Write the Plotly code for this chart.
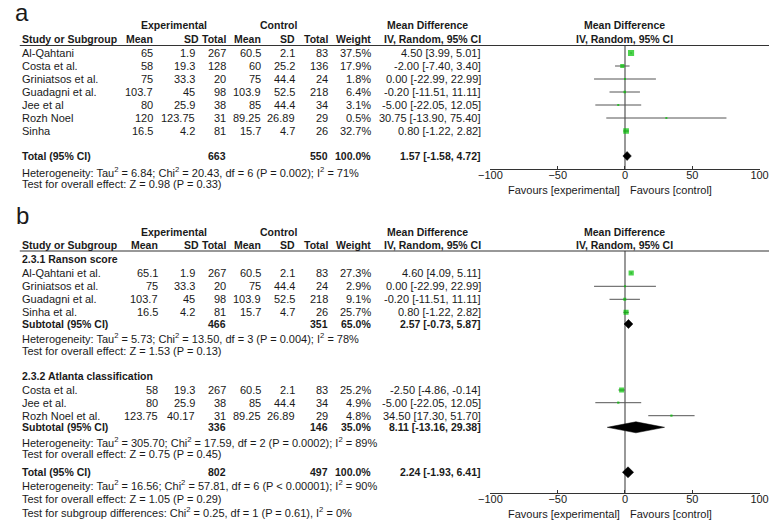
import plotly.graph_objects as go

# ---------------- DATA ----------------
# Panel a
a_study = ["Al-Qahtani", "Costa et al.", "Griniatsos et al.", "Guadagni et al.", "Jee et al", "Rozh Noel", "Sinha"]
a_exp_mean = ["65", "58", "75", "103.7", "80", "120", "16.5"]
a_exp_sd = ["1.9", "19.3", "33.3", "45", "25.9", "123.75", "4.2"]
a_exp_n = ["267", "128", "20", "98", "38", "31", "81"]
a_ctl_mean = ["60.5", "60", "75", "103.9", "85", "89.25", "15.7"]
a_ctl_sd = ["2.1", "25.2", "44.4", "52.5", "44.4", "26.89", "4.7"]
a_ctl_n = ["83", "136", "24", "218", "34", "29", "26"]
a_weight = [37.5, 17.9, 1.8, 6.4, 3.1, 0.5, 32.7]
a_md = [4.50, -2.00, 0.00, -0.20, -5.00, 30.75, 0.80]
a_lo = [3.99, -7.40, -22.99, -11.51, -22.05, -13.90, -1.22]
a_hi = [5.01, 3.40, 22.99, 11.11, 12.05, 75.40, 2.82]
a_total = {"n_exp": "663", "n_ctl": "550", "w": "100.0%", "md": 1.57, "lo": -1.58, "hi": 4.72}
a_het = "Heterogeneity: Tau<sup>2</sup> = 6.84; Chi<sup>2</sup> = 20.43, df = 6 (P = 0.002); I<sup>2</sup> = 71%"
a_test = "Test for overall effect: Z = 0.98 (P = 0.33)"

# Panel b – subgroup 2.3.1
b1_title = "2.3.1 Ranson score"
b1_study = ["Al-Qahtani et al.", "Griniatsos et al.", "Guadagni et al.", "Sinha et al."]
b1_exp_mean = ["65.1", "75", "103.7", "16.5"]
b1_exp_sd = ["1.9", "33.3", "45", "4.2"]
b1_exp_n = ["267", "20", "98", "81"]
b1_ctl_mean = ["60.5", "75", "103.9", "15.7"]
b1_ctl_sd = ["2.1", "44.4", "52.5", "4.7"]
b1_ctl_n = ["83", "24", "218", "26"]
b1_weight = [27.3, 2.9, 9.1, 25.7]
b1_md = [4.60, 0.00, -0.20, 0.80]
b1_lo = [4.09, -22.99, -11.51, -1.22]
b1_hi = [5.11, 22.99, 11.11, 2.82]
b1_sub = {"n_exp": "466", "n_ctl": "351", "w": "65.0%", "md": 2.57, "lo": -0.73, "hi": 5.87}
b1_het = "Heterogeneity: Tau<sup>2</sup> = 5.73; Chi<sup>2</sup> = 13.50, df = 3 (P = 0.004); I<sup>2</sup> = 78%"
b1_test = "Test for overall effect: Z = 1.53 (P = 0.13)"

# Panel b – subgroup 2.3.2
b2_title = "2.3.2 Atlanta classification"
b2_study = ["Costa et al.", "Jee et al.", "Rozh Noel et al."]
b2_exp_mean = ["58", "80", "123.75"]
b2_exp_sd = ["19.3", "25.9", "40.17"]
b2_exp_n = ["267", "38", "31"]
b2_ctl_mean = ["60.5", "85", "89.25"]
b2_ctl_sd = ["2.1", "44.4", "26.89"]
b2_ctl_n = ["83", "34", "29"]
b2_weight = [25.2, 4.9, 4.8]
b2_md = [-2.50, -5.00, 34.50]
b2_lo = [-4.86, -22.05, 17.30]
b2_hi = [-0.14, 12.05, 51.70]
b2_sub = {"n_exp": "336", "n_ctl": "146", "w": "35.0%", "md": 8.11, "lo": -13.16, "hi": 29.38}
b2_het = "Heterogeneity: Tau<sup>2</sup> = 305.70; Chi<sup>2</sup> = 17.59, df = 2 (P = 0.0002); I<sup>2</sup> = 89%"
b2_test = "Test for overall effect: Z = 0.75 (P = 0.45)"

b_total = {"n_exp": "802", "n_ctl": "497", "w": "100.0%", "md": 2.24, "lo": -1.93, "hi": 6.41}
b_het = "Heterogeneity: Tau<sup>2</sup> = 16.56; Chi<sup>2</sup> = 57.81, df = 6 (P < 0.00001); I<sup>2</sup> = 90%"
b_test = "Test for overall effect: Z = 1.05 (P = 0.29)"
b_sub_test = "Test for subgroup differences: Chi<sup>2</sup> = 0.25, df = 1 (P = 0.61), I<sup>2</sup> = 0%"

tick_vals = [-100, -50, 0, 50, 100]
fav_left = "Favours [experimental]"
fav_right = "Favours [control]"

# ---------------- LAYOUT CONSTANTS ----------------
W, H = 778, 527
FONT = "Liberation Sans, Arial, sans-serif"
FS = 11
FSB = 10.5
TXT = "#1a1a1a"
GREEN = "#00c000"
X_LEFT, X_RIGHT = 491.7, 768.3  # pixel span of -100..100

# column right edges (px)
COL_A = dict(em=146, esd=189, en=221, cm=257, csd=292, cn=326, w=370, ci=483)
COL_B = dict(em=151, esd=189, en=221, cm=257, csd=292, cn=326, w=370, ci=483)
HDR_R = dict(em=146, esd=193, en=221, cm=257, csd=292, cn=326, w=370, ci=483)

# row y (px)
A_Y = dict(lbl=12, h1=25, h2=39, line=45.5, rows=[53, 66, 79, 92, 105, 118, 131],
           total=156, het=171.5, test=184, axis=169.3)
B_Y = dict(lbl=215, h1=232, h2=245.3, line=251, g1=259, rows1=[273, 286.3, 299.3, 312.3],
           sub1=324, het1=338.3, test1=351, g2=375.7, rows2=[390, 402.7, 415.7], sub2=427.3,
           het2=441.7, test2=454.3, total=472.3, het=485.3, test=498.7, subtest=511.7, axis=493.3)

annotations = []


def txt(x, y, s, anchor="left", bold=False, size=None, color=TXT):
    if size is None:
        size = FSB if bold else FS
    if bold:
        s = "<b>" + s + "</b>"
    annotations.append(dict(x=x / W, y=y, xref="paper", yref="y", text=s, showarrow=False,
                            xanchor=anchor, yanchor="middle", align=anchor, borderpad=0,
                            font=dict(family=FONT, size=size, color=color)))


def fmt_ci(md, lo, hi):
    return f"{md:.2f} [{lo:.2f}, {hi:.2f}]"


def headers(Y, mean_shift):
    txt(166, Y["h1"], "Experimental", "center", True)
    txt(273.5, Y["h1"], "Control", "center", True)
    txt(427, Y["h1"], "Mean Difference", "center", True)
    txt(629.5, Y["h1"], "Mean Difference", "center", True)
    txt(9, Y["h2"], "Study or Subgroup", "left", True)
    txt(HDR_R["em"] + mean_shift, Y["h2"], "Mean", "right", True)
    txt(HDR_R["esd"], Y["h2"], "SD", "right", True)
    txt(HDR_R["en"], Y["h2"], "Total", "right", True)
    txt(HDR_R["cm"], Y["h2"], "Mean", "right", True)
    txt(HDR_R["csd"], Y["h2"], "SD", "right", True)
    txt(HDR_R["cn"], Y["h2"], "Total", "right", True)
    txt(HDR_R["w"], Y["h2"], "Weight", "right", True)
    txt(HDR_R["ci"], Y["h2"], "IV, Random, 95% CI", "right", True)
    txt(629.5, Y["h2"], "IV, Random, 95% CI", "center", True)


def study_rows(ys, col, study, em, esd, en, cm, csd, cn, w, md, lo, hi):
    for i, y in enumerate(ys):
        txt(9, y, study[i])
        txt(col["em"], y, em[i], "right")
        txt(col["esd"], y, esd[i], "right")
        txt(col["en"], y, en[i], "right")
        txt(col["cm"], y, cm[i], "right")
        txt(col["csd"], y, csd[i], "right")
        txt(col["cn"], y, cn[i], "right")
        txt(col["w"], y, f"{w[i]:.1f}%", "right")
        txt(col["ci"], y, fmt_ci(md[i], lo[i], hi[i]), "right")


def summary_row(y, col, label, d):
    txt(9, y, label, "left", True)
    txt(col["en"], y, d["n_exp"], "right", True)
    txt(col["cn"], y, d["n_ctl"], "right", True)
    txt(col["w"], y, d["w"], "right", True)
    txt(col["ci"], y, fmt_ci(d["md"], d["lo"], d["hi"]), "right", True)


# ---- panel a text ----
txt(2, A_Y["lbl"], "a", "left", False, 24)
headers(A_Y, 0)
study_rows(A_Y["rows"], COL_A, a_study, a_exp_mean, a_exp_sd, a_exp_n, a_ctl_mean, a_ctl_sd,
           a_ctl_n, a_weight, a_md, a_lo, a_hi)
summary_row(A_Y["total"], COL_A, "Total (95% CI)", a_total)
txt(9, A_Y["het"], a_het)
txt(9, A_Y["test"], a_test)

# ---- panel b text ----
txt(3, B_Y["lbl"], "b", "left", False, 24)
headers(B_Y, 5)
txt(9, B_Y["g1"], b1_title, "left", True)
study_rows(B_Y["rows1"], COL_B, b1_study, b1_exp_mean, b1_exp_sd, b1_exp_n, b1_ctl_mean, b1_ctl_sd,
           b1_ctl_n, b1_weight, b1_md, b1_lo, b1_hi)
summary_row(B_Y["sub1"], COL_B, "Subtotal (95% CI)", b1_sub)
txt(9, B_Y["het1"], b1_het)
txt(9, B_Y["test1"], b1_test)
txt(9, B_Y["g2"], b2_title, "left", True)
study_rows(B_Y["rows2"], COL_B, b2_study, b2_exp_mean, b2_exp_sd, b2_exp_n, b2_ctl_mean, b2_ctl_sd,
           b2_ctl_n, b2_weight, b2_md, b2_lo, b2_hi)
summary_row(B_Y["sub2"], COL_B, "Subtotal (95% CI)", b2_sub)
txt(9, B_Y["het2"], b2_het)
txt(9, B_Y["test2"], b2_test)
summary_row(B_Y["total"], COL_B, "Total (95% CI)", b_total)
txt(9, B_Y["het"], b_het)
txt(9, B_Y["test"], b_test)
txt(9, B_Y["subtest"], b_sub_test)

# favours labels
for Y, dy in ((A_Y, 20.2), (B_Y, 20.5)):
    txt(625.7, Y["axis"] + dy, fav_left, "right")
    txt(634, Y["axis"] + dy, fav_right, "left")

# ---------------- MARKS ----------------
fig = go.Figure()


def add_studies(xaxis, ys, md, lo, hi, w):
    cx, cy = [], []
    for i, y in enumerate(ys):
        cx += [lo[i], hi[i], None]
        cy += [y, y, None]
    fig.add_trace(go.Scatter(x=cx, y=cy, xaxis=xaxis, yaxis="y", mode="lines",
                             line=dict(color="#555555", width=1), hoverinfo="skip", showlegend=False))
    fig.add_trace(go.Scatter(x=md, y=ys, xaxis=xaxis, yaxis="y", mode="markers",
                             marker=dict(symbol="square", color=GREEN,
                                         size=[max(2.0, wi ** 0.5) for wi in w], line=dict(width=0)),
                             showlegend=False))


def add_diamond(xaxis, y, d, hh=5):
    fig.add_trace(go.Scatter(x=[d["lo"], d["md"], d["hi"], d["md"], d["lo"]],
                             y=[y, y - hh, y, y + hh, y], xaxis=xaxis, yaxis="y",
                             mode="lines", fill="toself", fillcolor="black",
                             line=dict(color="black", width=0.5), showlegend=False))


add_studies("x", A_Y["rows"], a_md, a_lo, a_hi, a_weight)
add_diamond("x", A_Y["total"], a_total, 4.5)
add_studies("x2", B_Y["rows1"], b1_md, b1_lo, b1_hi, b1_weight)
add_diamond("x2", B_Y["sub1"], b1_sub, 4.5)
add_studies("x2", B_Y["rows2"], b2_md, b2_lo, b2_hi, b2_weight)
add_diamond("x2", B_Y["sub2"], b2_sub, 5.5)
add_diamond("x2", B_Y["total"], b_total, 5.5)

shapes = []
for Y in (A_Y, B_Y):
    shapes.append(dict(type="line", xref="paper", yref="y", x0=8 / W, x1=1, y0=Y["line"], y1=Y["line"],
                       line=dict(color="#333333", width=1.2)))
shapes.append(dict(type="line", xref="x", yref="y", x0=0, x1=0, y0=A_Y["line"], y1=A_Y["axis"],
                   line=dict(color="#777777", width=1.5), layer="below"))
shapes.append(dict(type="line", xref="x2", yref="y", x0=0, x1=0, y0=B_Y["line"], y1=B_Y["axis"],
                   line=dict(color="#777777", width=1.5), layer="below"))

xcommon = dict(domain=[X_LEFT / W, X_RIGHT / W], range=[-100, 100], anchor="free",
               tickvals=tick_vals, ticks="inside", ticklen=3, tickcolor="#333333",
               showline=True, linecolor="#333333", linewidth=1, showgrid=False, zeroline=False,
               ticklabelstandoff=-5,
               tickfont=dict(family=FONT, size=FS, color=TXT), fixedrange=True)

fig.update_layout(
    width=W, height=H, margin=dict(l=0, r=0, t=0, b=0),
    paper_bgcolor="white", plot_bgcolor="rgba(0,0,0,0)",
    xaxis=dict(**xcommon, position=1 - A_Y["axis"] / H),
    xaxis2=dict(**xcommon, position=1 - B_Y["axis"] / H, overlaying="x"),
    yaxis=dict(domain=[0, 1], range=[H, 0], visible=False, fixedrange=True),
    annotations=annotations, shapes=shapes, showlegend=False,
)

fig.write_html("out.html", config={"displayModeBar": False},
               post_script="document.body.style.margin='0px';")
